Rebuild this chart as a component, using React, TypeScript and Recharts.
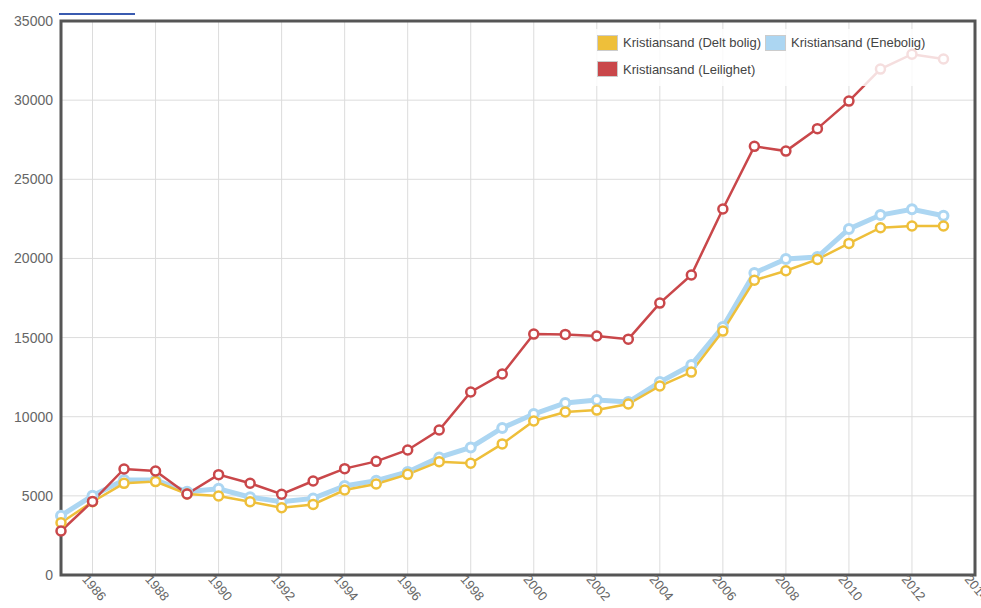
import React from "react";
import {
  LineChart,
  Line,
  XAxis,
  YAxis,
  CartesianGrid,
  ReferenceArea,
} from "recharts";

const years = [
  1985, 1986, 1987, 1988, 1989, 1990, 1991, 1992, 1993, 1994, 1995, 1996, 1997, 1998, 1999,
  2000, 2001, 2002, 2003, 2004, 2005, 2006, 2007, 2008, 2009, 2010, 2011, 2012, 2013,
];

const deltBolig = [
  3300, 4630, 5790, 5900, 5120, 4990, 4630, 4250, 4460, 5370, 5750, 6360, 7160, 7060, 8280,
  9730, 10300, 10420, 10800, 11940, 12820, 15410, 18620, 19220, 19940, 20950, 21940, 22050, 22050,
];

const enebolig = [
  3750, 5010, 6000, 6000, 5260, 5450, 4910, 4630, 4840, 5620, 5960, 6510, 7430, 8060, 9290,
  10170, 10870, 11050, 10930, 12190, 13270, 15670, 19080, 19960, 20090, 21860, 22740, 23100, 22700,
];

const leilighet = [
  2780, 4650, 6700, 6570, 5120, 6340, 5800, 5100, 5940, 6720, 7180, 7900, 9160, 11560, 12700,
  15220, 15200, 15100, 14900, 17180, 18950, 23120, 27080, 26780, 28200, 29940, 31960, 32900, 32600,
];

const xTicks = [1986, 1988, 1990, 1992, 1994, 1996, 1998, 2000, 2002, 2004, 2006, 2008, 2010, 2012, 2014];
const yTicks = [0, 5000, 10000, 15000, 20000, 25000, 30000, 35000];

const series = [
  { key: "delt", name: "Kristiansand (Delt bolig)", color: "#eebf3a" },
  { key: "ene", name: "Kristiansand (Enebolig)", color: "#acd6f2" },
  { key: "leil", name: "Kristiansand (Leilighet)", color: "#c9474a" },
];

const data = years.map((y, i) => ({
  year: y,
  delt: deltBolig[i],
  ene: enebolig[i],
  leil: leilighet[i],
}));

const FONT = "'Liberation Sans', Arial, sans-serif";

const XTick = (props: any) => {
  const { x, y, payload } = props;
  return (
    <g transform={`translate(${x - 8},${y - 6}) rotate(50)`}>
      <text x={0} y={0} dy={4} textAnchor="start" fill="#666" fontSize={13} fontFamily={FONT}>
        {payload.value}
      </text>
    </g>
  );
};

const LegendBox = () => {
  const item = (s: any) => (
    <span key={s.key} style={{ display: "inline-flex", alignItems: "center", marginRight: 4 }}>
      <span
        style={{
          display: "inline-block",
          width: 19,
          height: 14,
          background: s.color,
          border: "1px solid #ccc",
          marginRight: 5,
        }}
      />
      <span>{s.name}</span>
    </span>
  );
  return (
    <div
      style={{
        position: "absolute",
        left: 594,
        top: 29,
        width: 370,
        background: "rgba(255,255,255,0.82)",
        fontFamily: FONT,
        fontSize: 13,
        color: "#444",
        padding: "2px 3px",
        lineHeight: "23px",
        whiteSpace: "nowrap",
      }}
    >
      <div>
        {item(series[0])}
        {item(series[1])}
      </div>
      <div>{item(series[2])}</div>
    </div>
  );
};

export default function App() {
  return (
    <div style={{ position: "absolute", left: 0, top: 0, width: 981, height: 608, background: "#fff" }}>
      <div
        style={{ position: "absolute", left: 59, top: 13, width: 76, height: 2, background: "#3a5bb0" }}
      />
      <LineChart
        width={981}
        height={608}
        data={data}
        margin={{ top: 21, right: 6, left: 0, bottom: 0 }}
      >
        <CartesianGrid stroke="#dcdcdc" strokeWidth={1} />
        <XAxis
          dataKey="year"
          type="number"
          domain={[1985, 2014]}
          ticks={xTicks}
          interval={0}
          height={33}
          tickLine={false}
          axisLine={false}
          tick={<XTick />}
        />
        <YAxis
          domain={[0, 35000]}
          ticks={yTicks}
          interval={0}
          width={61}
          tickLine={false}
          axisLine={false}
          tick={{ fill: "#666", fontSize: 14, fontFamily: FONT }}
        />
        <Line
          dataKey="ene"
          name={series[1].name}
          stroke={series[1].color}
          strokeWidth={5}
          dot={{ r: 4.5, fill: "#fff", stroke: series[1].color, strokeWidth: 3 }}
          isAnimationActive={false}
        />
        <Line
          dataKey="delt"
          name={series[0].name}
          stroke={series[0].color}
          strokeWidth={2.5}
          dot={{ r: 4.5, fill: "#fff", stroke: series[0].color, strokeWidth: 2.5 }}
          isAnimationActive={false}
        />
        <Line
          dataKey="leil"
          name={series[2].name}
          stroke={series[2].color}
          strokeWidth={2.5}
          dot={{ r: 4.5, fill: "#fff", stroke: series[2].color, strokeWidth: 2.5 }}
          isAnimationActive={false}
        />
        <ReferenceArea
          x1={1985}
          x2={2014}
          y1={0}
          y2={35000}
          fill="none"
          fillOpacity={0}
          stroke="#555"
          strokeWidth={3}
          ifOverflow="visible"
        />
      </LineChart>
      <LegendBox />
    </div>
  );
}
